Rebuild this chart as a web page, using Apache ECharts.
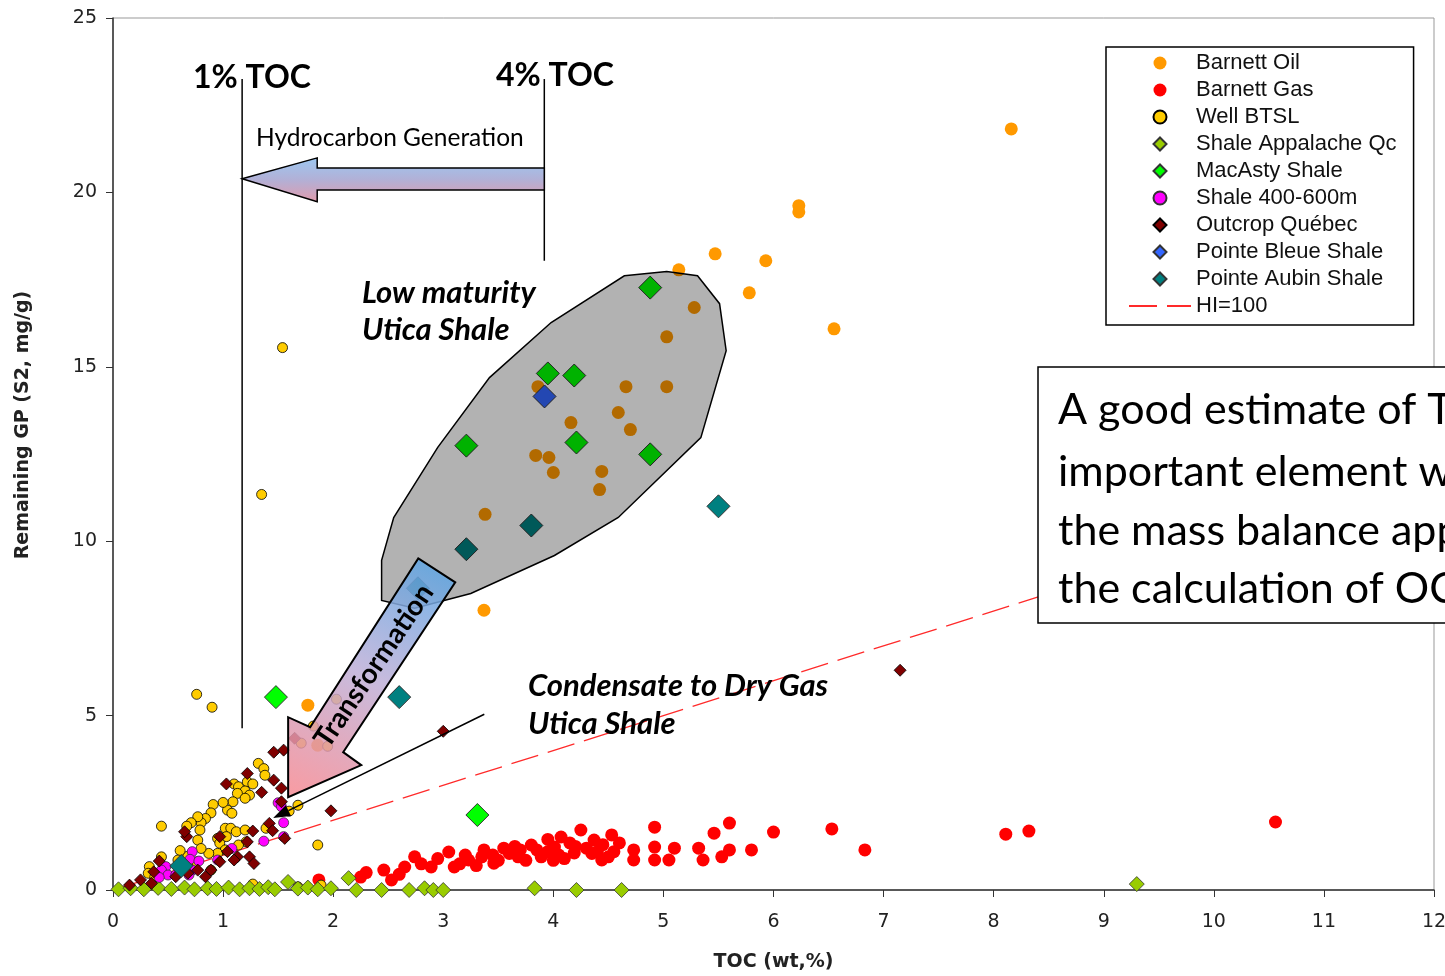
<!DOCTYPE html>
<html><head><meta charset="utf-8">
<script src="https://cdn.jsdelivr.net/npm/echarts@6/dist/echarts.min.js"></script>
<style>html,body{margin:0;padding:0;background:#fff;overflow:hidden}#c{width:1445px;height:976px}</style>
</head><body><div id="c"></div>
<script>
// ---------- DATA (TOC wt%, S2 mg/g) ----------
const barnettOil = [[8.16,21.82],[6.23,19.62],[6.23,19.44],[5.47,18.24],[5.93,18.04],[5.14,17.78],[5.78,17.12],[6.55,16.09],[5.28,16.70],[5.03,15.86],[3.86,14.43],[4.66,14.43],[5.03,14.43],[4.59,13.69],[4.16,13.40],[4.70,13.20],[3.84,12.46],[3.96,12.40],[4.00,11.97],[4.44,12.00],[4.42,11.48],[3.38,10.77],[3.37,8.02],[1.77,5.30],[1.86,4.15]];
const barnettGas = [[1.87,0.29],[2.25,0.37],[2.46,0.57],[2.53,0.29],[2.65,0.66],[2.74,0.95],[2.89,0.66],[3.05,1.09],[3.10,0.66],[3.23,0.86],[3.37,1.15],[3.46,0.77],[3.55,1.20],[3.68,0.95],[3.80,1.29],[3.89,0.95],[4.01,1.23],[4.07,1.52],[4.19,1.06],[4.25,1.72],[4.37,1.43],[4.44,0.86],[4.53,1.58],[4.73,1.15],[4.73,0.86],[4.92,1.80],[4.92,1.23],[4.92,0.86],[5.10,1.20],[5.05,0.86],[5.32,1.20],[5.36,0.86],[5.46,1.63],[5.53,0.95],[5.60,1.92],[5.60,1.15],[5.80,1.15],[6.00,1.66],[6.53,1.75],[6.83,1.15],[8.11,1.60],[8.32,1.69],[10.56,1.95],[2.80,0.75],[2.95,0.90],[3.20,1.00],[3.30,0.70],[3.45,1.00],[3.60,1.05],[3.75,0.85],[3.85,1.15],[3.95,1.10],[4.05,1.00],[4.10,0.90],[4.15,1.35],[4.30,1.20],[4.35,1.05],[4.45,1.30],[4.60,1.35],[4.55,1.10],[3.65,1.25],[3.95,1.45],[3.15,0.75],[3.50,0.85],[3.70,1.15],[4.00,0.85],[4.20,1.25],[4.40,1.10],[4.50,0.95],[3.35,0.95],[2.60,0.45],[2.30,0.50]];
const wellBTSL = [[1.54,15.55],[1.35,11.34],[0.76,5.61],[0.90,5.24],[2.03,5.47],[1.82,4.70],[1.71,4.21],[1.95,4.12],[1.32,3.63],[1.37,3.48],[1.38,3.29],[1.10,3.04],[1.14,2.96],[1.22,3.10],[1.27,3.04],[1.20,2.84],[1.13,2.77],[1.24,2.72],[1.20,2.63],[1.09,2.53],[1.04,2.29],[1.08,2.20],[1.00,2.51],[0.91,2.45],[0.89,2.21],[0.84,2.05],[0.80,1.93],[0.77,2.10],[0.71,1.93],[0.67,1.83],[0.44,1.83],[0.79,1.72],[0.77,1.43],[1.02,1.77],[0.95,1.48],[1.07,1.77],[1.12,1.67],[1.20,1.72],[1.21,1.38],[1.03,1.53],[0.97,1.34],[1.14,1.29],[1.02,1.15],[0.95,1.05],[0.87,1.05],[0.80,1.19],[0.76,0.81],[0.68,0.97],[0.61,1.13],[0.44,0.95],[0.33,0.67],[0.32,0.48],[0.38,0.38],[0.59,0.86],[0.89,0.57],[1.39,1.77],[1.68,2.43],[1.60,2.26],[1.86,1.29],[1.27,0.17],[1.68,0.09],[1.89,0.14]];
const shaleAppalache = [[0.05,0.02],[0.16,0.05],[0.28,0.02],[0.41,0.06],[0.53,0.03],[0.65,0.07],[0.74,0.02],[0.86,0.05],[0.94,0.03],[1.05,0.07],[1.15,0.02],[1.24,0.05],[1.33,0.03],[1.41,0.08],[1.47,0.02],[1.59,0.23],[1.68,0.04],[1.77,0.07],[1.86,0.02],[1.98,0.05],[2.14,0.34],[2.21,0.00],[2.44,0.00],[2.69,0.00],[2.83,0.05],[2.91,0.00],[3.00,0.00],[3.83,0.05],[4.21,0.00],[4.62,0.00],[9.30,0.17]];
const macAsty = [[4.88,17.27],[3.95,14.81],[4.19,14.75],[3.21,12.74],[4.21,12.83],[4.88,12.49],[1.48,5.53],[3.31,2.15]];
const shale400 = [[1.50,2.50],[1.53,2.39],[1.55,1.93],[1.55,1.53],[1.37,1.40],[1.08,1.19],[0.72,1.10],[0.70,0.88],[0.78,0.83],[0.95,0.86],[0.48,0.67],[0.44,0.57],[0.50,0.43],[0.42,0.36],[0.57,0.43],[0.72,0.57],[0.69,0.43]];
const outcropQuebec = [[7.15,6.30],[3.00,4.55],[1.65,4.35],[1.55,4.01],[1.46,3.95],[1.46,3.15],[1.53,2.92],[1.98,2.27],[1.22,3.34],[1.03,3.04],[1.35,2.80],[1.53,2.53],[1.42,1.91],[1.45,1.70],[1.56,1.48],[1.27,1.69],[1.22,1.38],[0.97,1.53],[0.67,1.53],[0.65,1.67],[1.04,1.10],[1.13,0.95],[1.24,0.95],[1.28,0.76],[0.97,0.81],[1.10,0.86],[0.89,0.57],[0.84,0.38],[0.77,0.57],[0.42,0.83],[0.37,0.52],[0.25,0.29],[0.15,0.14],[0.35,0.19],[0.57,0.38],[0.68,0.48]];
const pointeBleue = [[3.92,14.15]];
const pointeAubin = [[0.62,0.69],[2.60,5.53],[5.50,11.00],[3.80,10.45],[3.21,9.77],[2.77,8.65]];
const hiLine = [[0,0],[12,12]];
const seriesNames = ['Barnett Oil','Barnett Gas','Well BTSL','Shale Appalache Qc','MacAsty Shale','Shale 400-600m','Outcrop Québec','Pointe Bleue Shale','Pointe Aubin Shale','HI=100'];

// ---------- annotation geometry (data coordinates) ----------
const regionOutline = [[4.645,17.61],[5.03,17.73],[5.31,17.61],[5.51,16.81],[5.57,15.46],[5.34,12.97],[4.59,10.68],[4.01,9.59],[3.25,8.50],[2.74,8.08],[2.44,8.30],[2.44,9.45],[2.55,10.68],[2.95,12.69],[3.42,14.69],[3.98,16.27]];
const genArrow = [[1.173,20.39],[1.855,20.99],[1.855,20.70],[3.918,20.70],[3.918,20.07],[1.855,20.07],[1.855,19.73]];
const transArrow = [[2.773,9.507],[3.109,8.820],[2.091,3.952],[2.255,3.580],[1.591,2.663],[1.591,4.954],[1.791,4.668]];
const toc1Line = [[1.173,23.25],[1.173,4.64]];
const toc4Line = [[3.918,23.25],[3.918,18.04]];
const condLine = [[3.373,5.04],[1.455,2.062]];

const DIAMOND = 'path://M0,-10L10,0L0,10L-10,0Z';
const chart = echarts.init(document.getElementById('c'), null, {renderer:'canvas'});
const axisFont = 'DejaVu Sans';
const sc = (name, data, symbol, size, color, border, bw) => ({
  name, type:'scatter', data, symbol, symbolSize:size, symbolKeepAspect:true, z:2,
  itemStyle:{color, borderColor:border||color, borderWidth:bw||0, opacity:1},
  emphasis:{disabled:true}, animation:false
});
chart.setOption({
  animation:false,
  grid:{left:113, top:18, right:11, bottom:86, show:true, borderColor:'#999', borderWidth:1,
    containLabel:false, outerBoundsMode:'none'},
  xAxis:{type:'value', min:0, max:12, interval:1,
    axisLine:{show:true, onZero:false, lineStyle:{color:'#333', width:1.5}},
    axisTick:{show:true, length:7, lineStyle:{color:'#333'}},
    splitLine:{show:false},
    axisLabel:{margin:23, color:'#222', fontFamily:axisFont, fontSize:19},
    name:'TOC (wt,%)', nameLocation:'middle', nameGap:63,
    nameTextStyle:{fontWeight:'bold', fontSize:19, fontFamily:axisFont, color:'#222'}},
  yAxis:{type:'value', min:0, max:25, interval:5,
    axisLine:{show:true, onZero:false, lineStyle:{color:'#333', width:1.5}},
    axisTick:{show:true, length:7, lineStyle:{color:'#333'}},
    splitLine:{show:false},
    axisLabel:{margin:16, color:'#222', fontFamily:axisFont, fontSize:19}},
  legend:{orient:'vertical', left:1106, top:47, padding:[5,17,8,22],
    itemWidth:62, itemHeight:13, itemGap:5, symbolKeepAspect:true,
    backgroundColor:'#fff', borderColor:'#000', borderWidth:1.5, borderRadius:0,
    textStyle:{fontFamily:'Liberation Sans', fontSize:22, color:'#111', lineHeight:22},
    data:seriesNames},
  series:[
    {name:'HI=100', type:'line', data:hiLine, symbol:'none', showSymbol:false, z:1, silent:true,
      lineStyle:{color:'#ff2a2a', width:1.3, type:[28,10]}, itemStyle:{color:'#ff2a2a', opacity:0}},
    sc('Barnett Oil', barnettOil, 'circle', 13, '#ff9900'),
    sc('Barnett Gas', barnettGas, 'circle', 13, '#ff0000'),
    sc('Well BTSL', wellBTSL, 'circle', 10, '#ffcc00', '#000', 0.8),
    sc('Shale Appalache Qc', shaleAppalache, DIAMOND, 15, '#99cc00', '#333', 0.8),
    sc('MacAsty Shale', macAsty, DIAMOND, 23, '#00ff00', '#333', 1),
    sc('Shale 400-600m', shale400, 'circle', 10, '#ff00ff', '#333', 0.8),
    sc('Outcrop Québec', outcropQuebec, DIAMOND, 12, '#800000', '#000', 0.8),
    sc('Pointe Bleue Shale', pointeBleue, DIAMOND, 23, '#3366ff', '#333', 1),
    sc('Pointe Aubin Shale', pointeAubin, DIAMOND, 23, '#008080', '#333', 1)
  ]
});

const P = (p) => chart.convertToPixel({gridIndex:0}, p);
const pts = (arr) => arr.map(P);
const a = P(condLine[0]), t = P(condLine[1]);
const dx = t[0]-a[0], dy = t[1]-a[1], L = Math.hypot(dx,dy), ux = dx/L, uy = dy/L;
const bx = t[0]-ux*17, by = t[1]-uy*17;
const headPts = [t, [bx-uy*6, by+ux*6], [bx+uy*6, by-ux*6]];
const l1a = P(toc1Line[0]), l1b = P(toc1Line[1]), l4a = P(toc4Line[0]), l4b = P(toc4Line[1]);
const txt = (x, y, text, font, extra) => Object.assign({type:'text', x, y, z:120,
  style:Object.assign({text, font, fill:'#000', align:'left', verticalAlign:'middle'}, extra||{})});

chart.setOption({graphic:[
  {type:'text', x:23, y:425, rotation:Math.PI/2, z:120,
    style:{text:'Remaining GP (S2, mg/g)', font:'bold 19px "DejaVu Sans"', fill:'#222', align:'center', verticalAlign:'middle'}},
  {type:'polygon', z:100, shape:{points:pts(regionOutline)}, style:{fill:'rgba(0,0,0,0.3)', stroke:'#000', lineWidth:1.5}},
  {type:'line', z:101, shape:{x1:l1a[0], y1:l1a[1], x2:l1b[0], y2:l1b[1]}, style:{stroke:'#000', lineWidth:1.5}},
  {type:'line', z:101, shape:{x1:l4a[0], y1:l4a[1], x2:l4b[0], y2:l4b[1]}, style:{stroke:'#000', lineWidth:1.5}},
  {type:'polygon', z:102, shape:{points:pts(genArrow)},
    style:{fill:new echarts.graphic.LinearGradient(0,0,0,1,[{offset:0,color:'#9cc8f2'},{offset:0.5,color:'#b2b0d6'},{offset:1,color:'#e29aab'}]), stroke:'#000', lineWidth:1.5}},
  {type:'polygon', z:103, shape:{points:pts(transArrow)},
    style:{fill:new echarts.graphic.LinearGradient(0.85,0,0.15,1,[{offset:0,color:'rgba(90,165,228,0.85)'},{offset:0.5,color:'rgba(190,175,215,0.85)'},{offset:1,color:'rgba(244,140,150,0.85)'}]), stroke:'#000', lineWidth:2}},
  {type:'line', z:104, shape:{x1:a[0], y1:a[1], x2:bx, y2:by}, style:{stroke:'#000', lineWidth:1.5}},
  {type:'polygon', z:104, shape:{points:headPts}, style:{fill:'#000'}},
  {type:'text', x:374, y:666, rotation:56*Math.PI/180, z:120,
    style:{text:'Transformation', font:'bold 28px Lato', fill:'#000', align:'center', verticalAlign:'middle'}},
  txt(193, 78, '1% TOC', 'bold 32px Lato'),
  txt(496, 76, '4% TOC', 'bold 32px Lato'),
  txt(256, 138, 'Hydrocarbon Generation', '24.5px Lato'),
  txt(362, 293, 'Low maturity', 'italic bold 31px Lato'),
  txt(362, 330, 'Utica Shale', 'italic bold 31px Lato'),
  txt(528, 686, 'Condensate to Dry Gas', 'italic bold 31px Lato'),
  txt(528, 724, 'Utica Shale', 'italic bold 31px Lato'),
  {type:'rect', z:130, shape:{x:1038, y:367, width:430, height:256}, style:{fill:'#fff', stroke:'#000', lineWidth:1.5}},
  Object.assign(txt(1058, 410, 'A good estimate of TOC is an', '43px Lato'), {z:131}),
  Object.assign(txt(1058, 472, 'important element when using', '43px Lato'), {z:131}),
  Object.assign(txt(1058, 531, 'the mass balance approach for', '43px Lato'), {z:131}),
  Object.assign(txt(1058, 589, 'the calculation of OC', '43px Lato'), {z:131})
]});
</script></body></html>
